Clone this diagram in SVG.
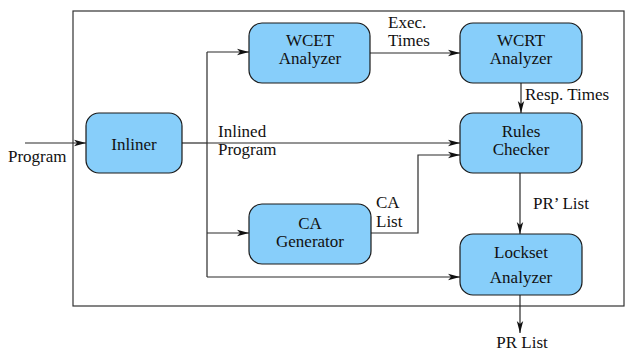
<svg xmlns="http://www.w3.org/2000/svg" width="626" height="351" viewBox="0 0 626 351">
  <style>
    .box { fill: #87cefa; stroke: #1a1a1a; stroke-width: 1.2; }
    .t { font-family: "Liberation Serif", "Times New Roman", serif; font-size: 17px; fill: #111; }
    .c { text-anchor: middle; }
    .ln { fill: none; stroke: #2a2a2a; stroke-width: 1.2; }
    .frame { fill: none; stroke: #333; stroke-width: 1.2; }
  </style>
  <defs>
    <marker id="arr" viewBox="0 0 12 8" refX="12" refY="4" markerWidth="12" markerHeight="8" markerUnits="userSpaceOnUse" orient="auto">
      <path d="M0,0.8 L12,4 L0,7.2 L3,4 Z" fill="#111"/>
    </marker>
  </defs>

  <rect class="frame" x="73" y="11" width="551" height="295"/>

  <g id="connectors">
    <!-- program input -->
    <line class="ln" x1="25" y1="143" x2="86" y2="143" marker-end="url(#arr)"/>
    <!-- inliner fan-out -->
    <line class="ln" x1="182" y1="143" x2="207" y2="143"/>
    <polyline class="ln" points="207,52 207,277"/>
    <line class="ln" x1="207" y1="52" x2="249" y2="52" marker-end="url(#arr)"/>
    <line class="ln" x1="207" y1="143" x2="460" y2="143" marker-end="url(#arr)"/>
    <line class="ln" x1="207" y1="233" x2="249" y2="233" marker-end="url(#arr)"/>
    <line class="ln" x1="207" y1="277" x2="460" y2="277" marker-end="url(#arr)"/>
    <!-- WCET to WCRT -->
    <line class="ln" x1="370" y1="53" x2="460" y2="53" marker-end="url(#arr)"/>
    <!-- WCRT to rules -->
    <line class="ln" x1="521" y1="83" x2="521" y2="113" marker-end="url(#arr)"/>
    <!-- CA list to rules -->
    <polyline class="ln" points="371,233 418,233 418,155 460,155" marker-end="url(#arr)"/>
    <!-- rules to lockset -->
    <line class="ln" x1="520" y1="173" x2="520" y2="234" marker-end="url(#arr)"/>
    <!-- lockset output -->
    <line class="ln" x1="520" y1="295" x2="520" y2="333" marker-end="url(#arr)"/>
  </g>

  <g id="inliner">
    <rect class="box" x="86" y="113" width="96" height="60" rx="13"/>
    <text class="t c" x="134" y="150">Inliner</text>
  </g>
  <g id="wcet">
    <rect class="box" x="249" y="23" width="121" height="60" rx="13"/>
    <text class="t c" x="310" y="46">WCET</text>
    <text class="t c" x="310" y="64">Analyzer</text>
  </g>
  <g id="wcrt">
    <rect class="box" x="460" y="23" width="122" height="60" rx="13"/>
    <text class="t c" x="521" y="46">WCRT</text>
    <text class="t c" x="521" y="64">Analyzer</text>
  </g>
  <g id="rules">
    <rect class="box" x="460" y="113" width="122" height="60" rx="13"/>
    <text class="t c" x="521" y="137">Rules</text>
    <text class="t c" x="521" y="155">Checker</text>
  </g>
  <g id="ca">
    <rect class="box" x="249" y="204" width="122" height="60" rx="13"/>
    <text class="t c" x="310" y="229">CA</text>
    <text class="t c" x="310" y="247">Generator</text>
  </g>
  <g id="lockset">
    <rect class="box" x="460" y="234" width="122" height="61" rx="13"/>
    <text class="t c" x="521" y="258">Lockset</text>
    <text class="t c" x="521" y="283">Analyzer</text>
  </g>

  <g id="labels">
    <text class="t" x="8" y="162">Program</text>
    <text class="t" x="388" y="28">Exec.</text>
    <text class="t" x="388" y="46">Times</text>
    <text class="t" x="525" y="100">Resp. Times</text>
    <text class="t" x="218" y="137">Inlined</text>
    <text class="t" x="218" y="155">Program</text>
    <text class="t" x="376" y="208">CA</text>
    <text class="t" x="376" y="227">List</text>
    <text class="t" x="533" y="209">PR’ List</text>
    <text class="t c" x="522" y="348">PR List</text>
  </g>
</svg>
